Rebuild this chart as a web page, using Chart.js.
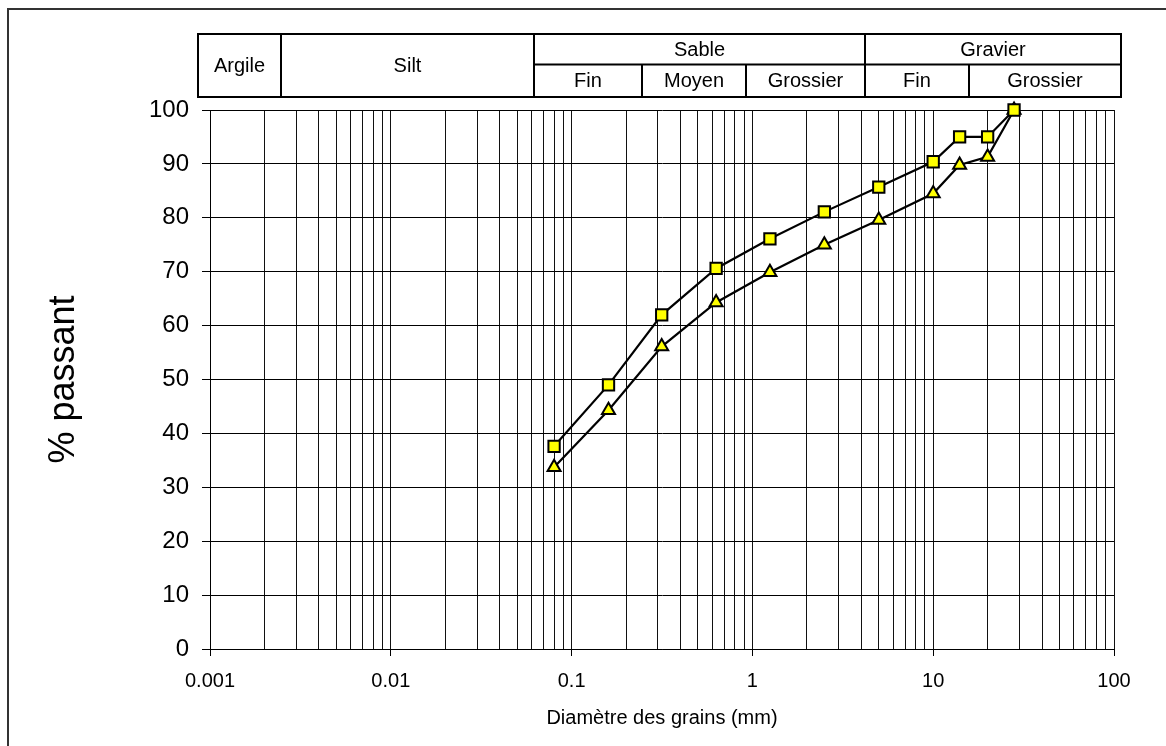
<!DOCTYPE html>
<html>
<head>
<meta charset="utf-8">
<script src="https://cdn.jsdelivr.net/npm/chart.js@4.4.1/dist/chart.umd.min.js"></script>
<style>
  html,body{margin:0;padding:0;background:#fff}
  #wrap{position:relative;width:1166px;height:746px}
</style>
</head>
<body>
<div id="wrap"><canvas id="granulo" width="1166" height="746"></canvas></div>
<script>
'use strict';
// tamis (mm) et % passant
const diametres = [0.08, 0.16, 0.315, 0.63, 1.25, 2.5, 5, 10, 14, 20, 28];
const passantHaut = [37.6, 49.0, 62.0, 70.6, 76.1, 81.1, 85.7, 90.4, 95.0, 95.0, 100];
const passantBas  = [33.7, 44.3, 56.1, 64.3, 69.9, 75.0, 79.6, 84.5, 89.8, 91.3, 100];

// graduations de l'axe x (1..9 x 10^n)
const decades = [0.001, 0.01, 0.1, 1, 10];
const xTicks = decades.flatMap(d => [1,2,3,4,5,6,7,8,9].map(k => +(k*d).toPrecision(3))).concat([100]);

// bandeau de classification (limites en mm)
const limitesClasses = [0.00086, 0.00247, 0.0621, 0.246, 0.925, 4.22, 15.8, 110];
const classesSimples = [['Argile',0,1], ['Silt',1,2]];
const classesHaut = [['Sable',2,5], ['Gravier',5,7]];
const classesBas = [['Fin',2,3], ['Moyen',3,4], ['Grossier',4,5], ['Fin',5,6], ['Grossier',6,7]];

const FONT = '"Liberation Sans", Arial, sans-serif';
const isDecade = v => Math.abs(Math.log10(v) - Math.round(Math.log10(v))) < 1e-6;

const bandeau = {
  id: 'bandeau',
  beforeDraw(chart) {
    const c = chart.ctx;
    c.save();
    c.fillStyle = '#fff';
    c.fillRect(0, 0, chart.width, chart.height);
    c.strokeStyle = '#333'; c.lineWidth = 2;
    c.strokeRect(8, 9, chart.width + 20, chart.height + 20);
    c.restore();
  },
  afterDraw(chart) {
    const c = chart.ctx, xs = chart.scales.x;
    const top = chart.chartArea.top - 76, mid = chart.chartArea.top - 45.5, bot = chart.chartArea.top - 13;
    const px = i => Math.round(xs.getPixelForValue(limitesClasses[i]));
    c.save();
    c.strokeStyle = '#000'; c.lineWidth = 2;
    c.strokeRect(px(0), top, px(7) - px(0), bot - top);
    c.beginPath();
    c.moveTo(px(2), mid); c.lineTo(px(7), mid);
    [1,2,5].forEach(i => { c.moveTo(px(i), top); c.lineTo(px(i), bot); });
    [3,4,6].forEach(i => { c.moveTo(px(i), mid); c.lineTo(px(i), bot); });
    c.stroke();
    c.fillStyle = '#000'; c.font = '20px ' + FONT;
    c.textAlign = 'center'; c.textBaseline = 'middle';
    classesSimples.forEach(([t,a,b]) => c.fillText(t, (px(a)+px(b))/2, (top+bot)/2 + 1));
    classesHaut.forEach(([t,a,b]) => c.fillText(t, (px(a)+px(b))/2, (top+mid)/2 + 1));
    classesBas.forEach(([t,a,b]) => c.fillText(t, (px(a)+px(b))/2, (mid+bot)/2 + 1));
    c.restore();
  }
};

const serie = (data, style) => ({
  data: diametres.map((x,i) => ({x, y: data[i]})),
  showLine: true, clip: false,
  borderColor: '#000', borderWidth: 2.2,
  pointStyle: style, pointRadius: style === 'rect' ? 8 : 7.5, pointHoverRadius: style === 'rect' ? 8 : 7.5,
  pointBackgroundColor: '#ffff00', pointBorderColor: '#000', pointBorderWidth: 2
});

new Chart(document.getElementById('granulo'), {
  type: 'scatter',
  data: { datasets: [serie(passantHaut, 'rect'), serie(passantBas, 'triangle')] },
  options: {
    responsive: false, animation: false,
    layout: { padding: { top: 110, right: 52, left: 0, bottom: 0 } },
    plugins: { legend: { display: false }, tooltip: { enabled: false } },
    scales: {
      x: {
        type: 'logarithmic', min: 0.001, max: 100,
        afterBuildTicks: s => { s.ticks = xTicks.map(v => ({ value: v, major: isDecade(v) })); },
        afterFit: s => { s.height = 97; },
        grid: { color: '#111', lineWidth: 1, tickLength: 7, tickColor: ctx => ctx.tick && isDecade(ctx.tick.value) ? '#000' : 'rgba(0,0,0,0)' },
        border: { color: '#000', width: 1 },
        ticks: { autoSkip: false, maxRotation: 0, padding: 13, color: '#000', font: { family: FONT, size: 20 },
          callback: v => isDecade(v) ? String(v) : '' },
        title: { display: true, text: 'Diamètre des grains (mm)', color: '#000', font: { family: FONT, size: 20 }, padding: { top: 0, bottom: 16 } }
      },
      y: {
        min: 0, max: 100,
        afterFit: s => { s.width = 210; },
        grid: { color: '#000', lineWidth: 1, tickLength: 8, tickColor: ctx => ctx.tick && ctx.tick.value % 10 === 0 ? '#000' : 'rgba(0,0,0,0)' },
        border: { color: '#000', width: 1 },
        ticks: { stepSize: 5, padding: 13, color: '#000', font: { family: FONT, size: 24 },
          callback: v => v % 10 === 0 ? v : '' },
        title: { display: true, text: '% passant', color: '#000', font: { family: FONT, size: 36 }, padding: { top: 42, bottom: 0 } }
      }
    }
  },
  plugins: [bandeau]
});
</script>
</body>
</html>
